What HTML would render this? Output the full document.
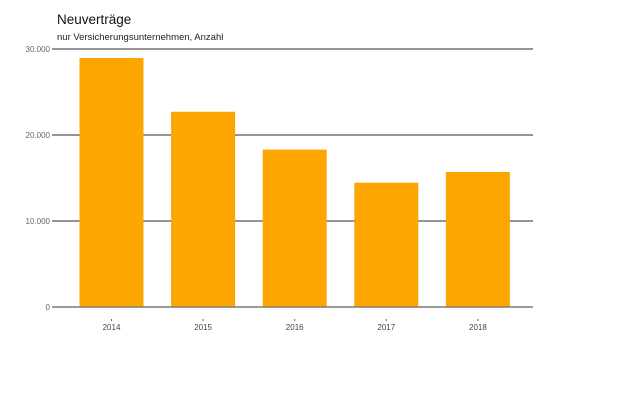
<!DOCTYPE html>
<html><head><meta charset="utf-8"><style>
body{margin:0;background:#fff;font-family:"Liberation Sans",sans-serif}
</style></head><body>
<svg width="620" height="413" xmlns="http://www.w3.org/2000/svg">
<text x="57" y="24" font-size="13.5" fill="#111">Neuverträge</text>
<text x="57" y="40" font-size="9.5" fill="#222">nur Versicherungsunternehmen, Anzahl</text>
<g id="grid"></g><g id="bars"></g><g id="xaxis"></g>
</svg>
<script>
const categories=["2014","2015","2016","2017","2018"];
const values=[28950,22700,18300,14450,15700];
const yTicks=[0,10000,20000,30000];
const yTickLabels=["0","10.000","20.000","30.000"];
const ns="http://www.w3.org/2000/svg";
const y=v=>307-v*258/30000;
const band=91.6, x0=65.7, bw=64;
const xc=i=>x0+band*(i+0.5);
const grid=document.getElementById('grid'),bars=document.getElementById('bars'),xa=document.getElementById('xaxis');
function mk(tag,a,p){const e=document.createElementNS(ns,tag);for(const k in a)e.setAttribute(k,a[k]);p.appendChild(e);return e;}
yTicks.forEach((t,i)=>{
 const l=mk('line',{x1:52,x2:533,y1:y(t),y2:y(t),stroke:'#555','stroke-width':1.3},grid);
 
 
 const tx=mk('text',{x:50,y:y(t)+3,'font-size':8,fill:'#666','text-anchor':'end'},grid);
 tx.textContent=yTickLabels[i];
 
 
});
categories.forEach((c,i)=>{
 const r=mk('rect',{x:xc(i)-bw/2,y:y(values[i]),width:bw,height:y(0)-y(values[i]),fill:'#fda500'},bars);
 
 
 const tk=mk('line',{x1:xc(i),x2:xc(i),y1:319,y2:321,stroke:'#666'},xa);
 
 
 const t=mk('text',{x:xc(i),y:330,'font-size':8,fill:'#444','text-anchor':'middle'},xa);
 t.textContent=c;
 
 
});
// redraw zero line on top
const z=mk('line',{x1:52,x2:533,y1:y(0),y2:y(0),stroke:'#777','stroke-width':1.3},xa);


</script>
</body></html>
